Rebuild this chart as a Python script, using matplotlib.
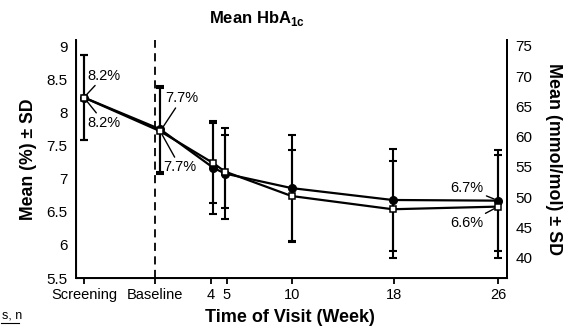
import matplotlib
matplotlib.use("Agg")
from matplotlib import pyplot as plt
from matplotlib.lines import Line2D

plt.rcParams['font.family'] = ['Liberation Sans Narrow', 'Liberation Sans', 'DejaVu Sans']
plt.rcParams['mathtext.fontset'] = 'custom'
plt.rcParams['mathtext.rm'] = 'Liberation Sans'
plt.rcParams['mathtext.bf'] = 'Liberation Sans:bold'

# data (HbA1c %, mean and SD)
visits = ["Screening", "Baseline", "4", "5", "10", "18", "26"]
mean_circle = [8.23, 7.75, 7.17, 7.08, 6.86, 6.68, 6.67]
sd_circle = [0.65, 0.65, 0.70, 0.69, 0.80, 0.77, 0.76]
mean_square = [8.23, 7.72, 7.24, 7.11, 6.74, 6.54, 6.58]
sd_square = [0.65, 0.65, 0.60, 0.55, 0.70, 0.73, 0.78]

# layout: where each visit sits on the week axis
tick_pos = [-5.38, 0.0, 4.25, 5.45, 10.35, 18.1, 26.0]
point_pos = [-5.38, 0.4, 4.4, 5.3, 10.35, 18.0, 26.0]


def to_mmol(p):
    return 10.929 * (p - 2.15)


fig = plt.figure(figsize=(5.67, 3.27), dpi=100)
ax = fig.add_axes([76 / 567, 1 - 278 / 327, (507 - 76) / 567, (278 - 40) / 327])

ax.errorbar(point_pos, mean_circle, yerr=sd_circle, fmt='none', ecolor='black',
            elinewidth=1.5, capsize=3, capthick=1.5, zorder=2)
ax.errorbar(point_pos, mean_square, yerr=sd_square, fmt='none', ecolor='black',
            elinewidth=1.5, capsize=3, capthick=1.5, zorder=2)
ax.plot(point_pos, mean_circle, color='black', lw=1.6, marker='o', ms=5.5,
        mfc='black', mec='black', zorder=3)
ax.plot(point_pos, mean_square, color='black', lw=1.6, marker='s', ms=4.5,
        mfc='white', mec='black', mew=1.1, zorder=4)

ax.axvline(0, color='black', lw=1.3, ls=(0, (4.5, 3)), zorder=1)

ax.set_xlim(-5.98, 26.67)
ax.set_ylim(5.5, 9.1)
ax.set_xticks(tick_pos)
ax.set_xticklabels(visits)
ax.set_yticks([5.5, 6, 6.5, 7, 7.5, 8, 8.5, 9])
ax.set_yticklabels(['5.5', '6', '6.5', '7', '7.5', '8', '8.5', '9'])
ax.tick_params(axis='y', length=0, pad=6, labelsize=11)
ax.tick_params(axis='x', length=4, width=1.3, pad=3, labelsize=10.5)
ax.spines['top'].set_visible(False)
for s in ['left', 'bottom', 'right']:
    ax.spines[s].set_linewidth(1.4)

ax2 = ax.twinx()
ax2.set_ylim(to_mmol(5.5), to_mmol(9.1))
ax2.set_yticks([40, 45, 50, 55, 60, 65, 70, 75])
ax2.tick_params(axis='y', length=0, pad=6, labelsize=11)
ax2.spines['top'].set_visible(False)
ax2.spines['right'].set_linewidth(1.4)

# value callouts
kw = dict(fontsize=10.5, color='black',
          arrowprops=dict(arrowstyle='-', color='black', lw=1.0, shrinkA=0, shrinkB=3))
ax.annotate('8.2%', xy=(point_pos[0], mean_square[0]), xytext=(-5.1, 8.56), ha='left', va='center', **kw)
ax.annotate('8.2%', xy=(point_pos[0], mean_square[0]), xytext=(-5.1, 7.85), ha='left', va='center', **kw)
ax.annotate('7.7%', xy=(point_pos[1], mean_square[1]), xytext=(0.8, 8.22), ha='left', va='center', **kw)
ax.annotate('7.7%', xy=(point_pos[1], mean_square[1]), xytext=(0.65, 7.18), ha='left', va='center', **kw)
ax.annotate('6.7%', xy=(point_pos[6], mean_circle[6]), xytext=(24.9, 6.86), ha='right', va='center', **kw)
ax.annotate('6.6%', xy=(point_pos[6], mean_square[6]), xytext=(24.9, 6.33), ha='right', va='center', **kw)

fig.text(257 / 567, 1 - 18 / 327, r'Mean HbA$_{\mathbf{1c}}$', ha='center', va='center',
         fontsize=12, fontweight='bold', family='Liberation Sans')
ax.set_ylabel('Mean (%) ± SD', fontsize=12.7, fontweight='bold', family='Liberation Sans', labelpad=7)
ax2.set_ylabel('Mean (mmol/mol) ± SD', fontsize=12.9, fontweight='bold', family='Liberation Sans',
               rotation=-90, va='bottom', labelpad=9)
fig.text(290 / 567, 1 - 317 / 327, 'Time of Visit (Week)', ha='center', va='center',
         fontsize=13, fontweight='bold', family='Liberation Sans')

# clipped fragment at lower left
fig.text(2 / 567, 1 - 316 / 327, 's, n', ha='left', va='center', fontsize=9)
fig.add_artist(Line2D([1 / 567, 19 / 567], [1 - 323 / 327, 1 - 323 / 327], color='black', lw=0.8))

plt.savefig("out.png", dpi=100)
